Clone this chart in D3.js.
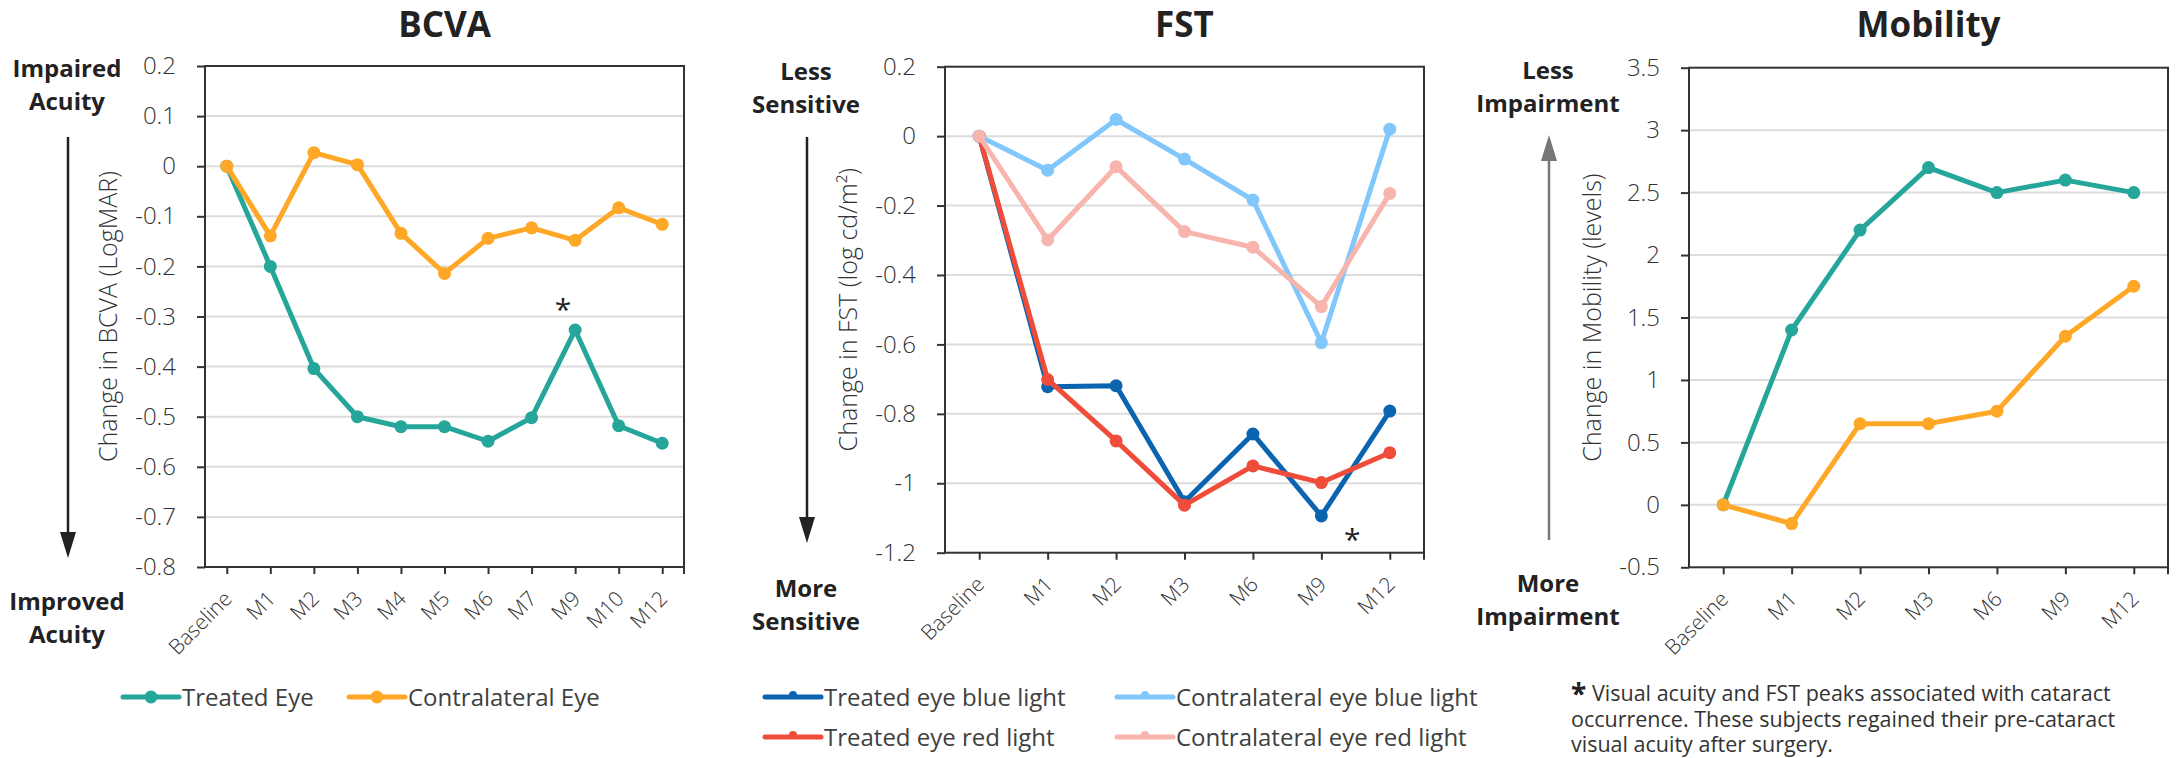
<!DOCTYPE html>
<html>
<head lang="en">
  <meta charset="UTF-8">
  <title>BCVA, FST and Mobility</title>
  <script src="https://cdn.jsdelivr.net/npm/d3@7"></script>
</head>
<style>
  body { margin: 0; background: #fff; }
  #chart text { font-family: "Open Sans", sans-serif; }
</style>
<body>

<svg id="chart" width="2177" height="758"></svg>

<script>
  // BCVA data
  var bcvaCategories = ['Baseline', 'M1', 'M2', 'M3', 'M4', 'M5', 'M6', 'M7', 'M9', 'M10', 'M12'];
  var bcvaTreated = [0, -0.2, -0.404, -0.5, -0.52, -0.52, -0.549, -0.502, -0.327, -0.518, -0.553];
  var bcvaContralateral = [0, -0.139, 0.027, 0.003, -0.134, -0.214, -0.144, -0.123, -0.148, -0.083, -0.116];
  var bcvaTicks = [0.2, 0.1, 0, -0.1, -0.2, -0.3, -0.4, -0.5, -0.6, -0.7, -0.8];

  // FST data
  var fstCategories = ['Baseline', 'M1', 'M2', 'M3', 'M6', 'M9', 'M12'];
  var fstTreatedBlue = [0, -0.722, -0.719, -1.053, -0.858, -1.094, -0.792];
  var fstTreatedRed = [0, -0.701, -0.878, -1.063, -0.95, -0.998, -0.912];
  var fstContralateralBlue = [0, -0.098, 0.048, -0.066, -0.184, -0.595, 0.02];
  var fstContralateralRed = [0, -0.299, -0.088, -0.275, -0.32, -0.491, -0.165];
  var fstTicks = [0.2, 0, -0.2, -0.4, -0.6, -0.8, -1, -1.2];

  // Mobility data
  var mobilityCategories = ['Baseline', 'M1', 'M2', 'M3', 'M6', 'M9', 'M12'];
  var mobilityTreated = [0, 1.4, 2.2, 2.7, 2.5, 2.6, 2.5];
  var mobilityContralateral = [0, -0.15, 0.65, 0.65, 0.75, 1.35, 1.75];
  var mobilityTicks = [3.5, 3, 2.5, 2, 1.5, 1, 0.5, 0, -0.5];

  var footnote = ['Visual acuity and FST peaks associated with cataract',
                  'occurrence. These subjects regained their pre-cataract',
                  'visual acuity after surgery.'];

  var teal = '#26a69a', orange = '#ffa726';
  var darkBlue = '#0b64b0', red = '#ef4d3a', lightBlue = '#82c7fb', pink = '#f7b5ad';

  var svg = d3.select('#chart');

  drawPanel({
    title: 'BCVA', categories: bcvaCategories, ticks: bcvaTicks,
    left: 205, right: 684, top: 66, bottom: 567,
    yTitle: 'Change in BCVA (LogMAR)',
    series: [
      { name: 'Treated Eye', values: bcvaTreated, color: teal },
      { name: 'Contralateral Eye', values: bcvaContralateral, color: orange }
    ],
    side: { x: 67, top: ['Impaired', 'Acuity'], topY: 77, bottom: ['Improved', 'Acuity'], bottomY: 610,
            arrowFrom: 137, arrowTo: 558, arrowColor: '#222' },
    legend: { pos: [[123, 697], [349, 697]], marker: 6.5 },
    star: { category: 'M9', dx: -12, y: 320 }
  });

  drawPanel({
    title: 'FST', categories: fstCategories, ticks: fstTicks,
    left: 945, right: 1424, top: 66.7, bottom: 552.7,
    yTitle: 'Change in FST (log cd/m\u00b2)',
    series: [
      { name: 'Treated eye blue light', values: fstTreatedBlue, color: darkBlue },
      { name: 'Treated eye red light', values: fstTreatedRed, color: red },
      { name: 'Contralateral eye blue light', values: fstContralateralBlue, color: lightBlue },
      { name: 'Contralateral eye red light', values: fstContralateralRed, color: pink }
    ],
    side: { x: 806, top: ['Less', 'Sensitive'], topY: 80, bottom: ['More', 'Sensitive'], bottomY: 597,
            arrowFrom: 137, arrowTo: 543, arrowColor: '#222' },
    legend: { pos: [[765, 697], [765, 737], [1117, 697], [1117, 737]], marker: 4 },
    star: { category: 'M9', dx: 31, y: 550 }
  });

  drawPanel({
    title: 'Mobility', categories: mobilityCategories, ticks: mobilityTicks,
    left: 1689, right: 2168, top: 67.7, bottom: 567.3,
    yTitle: 'Change in Mobility (levels)',
    series: [
      { name: 'Treated Eye', values: mobilityTreated, color: teal },
      { name: 'Contralateral Eye', values: mobilityContralateral, color: orange }
    ],
    side: { x: 1548, top: ['Less', 'Impairment'], topY: 79, bottom: ['More', 'Impairment'], bottomY: 592,
            arrowFrom: 540, arrowTo: 135, arrowColor: '#777' }
  });

  // footnote
  var note = svg.append('g').attr('transform', 'translate(1571,0)');
  note.append('text')
    .attr('x', 0).attr('y', 704)
    .attr('font-size', 28).attr('font-weight', 700).attr('fill', '#222')
    .text('*');
  note.selectAll('text.line')
    .data(footnote)
    .enter()
      .append('text')
      .attr('class', 'line')
      .attr('x', function(d, i) { return i === 0 ? 21 : 0; })
      .attr('y', function(d, i) { return 701 + i * 25.5; })
      .attr('font-size', 21.5)
      .attr('fill', '#333')
      .text(function(d) { return d; });

  function drawPanel(p) {
    var g = svg.append('g');

    var x = d3.scalePoint()
      .domain(p.categories)
      .range([p.left, p.right])
      .padding(0.5);

    var y = d3.scaleLinear()
      .domain([p.ticks[p.ticks.length - 1], p.ticks[0]])
      .range([p.bottom, p.top]);

    // gridlines
    g.selectAll('line.grid')
      .data(p.ticks.slice(1, -1))
      .enter()
        .append('line')
        .attr('class', 'grid')
        .attr('x1', p.left).attr('x2', p.right)
        .attr('y1', y).attr('y2', y)
        .attr('stroke', '#dcdcdc')
        .attr('stroke-width', 2);

    // y axis
    var yAxis = g.append('g')
      .attr('transform', 'translate(' + p.left + ',0)')
      .call(d3.axisLeft(y).tickValues(p.ticks).tickFormat(function(d) { return String(d); })
        .tickSize(8).tickSizeOuter(0).tickPadding(21));
    yAxis.select('.domain').remove();
    yAxis.selectAll('.tick line').attr('stroke', '#333').attr('stroke-width', 2);
    yAxis.selectAll('.tick text')
      .attr('font-size', 24).attr('font-weight', 300).attr('fill', '#333');

    // x axis
    var xAxis = g.append('g')
      .attr('transform', 'translate(0,' + p.bottom + ')')
      .call(d3.axisBottom(x).tickSize(7).tickSizeOuter(0));
    xAxis.select('.domain').remove();
    xAxis.selectAll('.tick line').attr('stroke', '#333').attr('stroke-width', 2);
    xAxis.selectAll('.tick text')
      .attr('x', 0).attr('y', 0).attr('dy', 0)
      .attr('text-anchor', 'end')
      .attr('transform', 'translate(6,33) rotate(-45)')
      .attr('font-size', 21).attr('font-weight', 300).attr('fill', '#333');
    xAxis.append('line')
      .attr('x1', p.right).attr('x2', p.right)
      .attr('y1', 0).attr('y2', 7)
      .attr('stroke', '#333').attr('stroke-width', 2);

    // frame
    g.append('rect')
      .attr('x', p.left).attr('y', p.top)
      .attr('width', p.right - p.left).attr('height', p.bottom - p.top)
      .attr('fill', 'none')
      .attr('stroke', '#333')
      .attr('stroke-width', 2);

    // series
    var line = d3.line()
      .x(function(d, i) { return x(p.categories[i]); })
      .y(function(d) { return y(d); });

    var s = g.selectAll('g.series')
      .data(p.series)
      .enter()
        .append('g')
        .attr('class', 'series');

    s.append('path')
      .attr('d', function(d) { return line(d.values); })
      .attr('fill', 'none')
      .attr('stroke', function(d) { return d.color; })
      .attr('stroke-width', 5)
      .attr('stroke-linejoin', 'round');

    s.selectAll('circle')
      .data(function(d) { return d.values.map(function(v, i) { return { v: v, i: i, color: d.color }; }); })
      .enter()
        .append('circle')
        .attr('cx', function(d) { return x(p.categories[d.i]); })
        .attr('cy', function(d) { return y(d.v); })
        .attr('r', 6.5)
        .attr('fill', function(d) { return d.color; });

    // title
    g.append('text')
      .attr('x', (p.left + p.right) / 2).attr('y', 37)
      .attr('text-anchor', 'middle')
      .attr('font-size', 35).attr('font-weight', 700).attr('fill', '#222')
      .text(p.title);

    // y title
    g.append('text')
      .attr('transform', 'translate(' + (p.left - 88) + ',' + (p.top + p.bottom) / 2 + ') rotate(-90)')
      .attr('text-anchor', 'middle')
      .attr('font-size', 25).attr('font-weight', 300).attr('fill', '#333')
      .text(p.yTitle);

    // direction labels and arrow
    var side = p.side;
    [[side.top, side.topY], [side.bottom, side.bottomY]].forEach(function(block) {
      g.selectAll(null)
        .data(block[0])
        .enter()
          .append('text')
          .attr('x', side.x)
          .attr('y', function(d, i) { return block[1] + i * 33; })
          .attr('text-anchor', 'middle')
          .attr('font-size', 24).attr('font-weight', 700).attr('fill', '#222')
          .text(function(d) { return d; });
    });
    var dir = side.arrowTo > side.arrowFrom ? 1 : -1;
    g.append('line')
      .attr('x1', side.x + 1).attr('x2', side.x + 1)
      .attr('y1', side.arrowFrom).attr('y2', side.arrowTo - dir * 20)
      .attr('stroke', side.arrowColor).attr('stroke-width', 2.5);
    g.append('path')
      .attr('d', 'M' + (side.x + 1 - 8) + ',' + (side.arrowTo - dir * 26) +
                 'L' + (side.x + 1 + 8) + ',' + (side.arrowTo - dir * 26) +
                 'L' + (side.x + 1) + ',' + side.arrowTo + 'Z')
      .attr('fill', side.arrowColor);

    // asterisk
    if (p.star) {
      g.append('text')
        .attr('x', x(p.star.category) + p.star.dx).attr('y', p.star.y)
        .attr('text-anchor', 'middle')
        .attr('font-size', 30).attr('fill', '#222')
        .text('*');
    }

    // legend
    if (p.legend) {
      var item = g.selectAll('g.legend')
        .data(p.series)
        .enter()
          .append('g')
          .attr('class', 'legend')
          .attr('transform', function(d, i) { return 'translate(' + p.legend.pos[i][0] + ',' + p.legend.pos[i][1] + ')'; });
      item.append('line')
        .attr('x1', 0).attr('x2', 56)
        .attr('stroke', function(d) { return d.color; })
        .attr('stroke-width', 5)
        .attr('stroke-linecap', 'round');
      item.append('circle')
        .attr('cx', 28)
        .attr('cy', p.legend.marker < 5 ? -2 : 0)
        .attr('r', p.legend.marker)
        .attr('fill', function(d) { return d.color; });
      item.append('text')
        .attr('x', 59).attr('y', 8.5)
        .attr('font-size', 24).attr('fill', '#404040')
        .text(function(d) { return d.name; });
    }
  }
</script>
</body>
</html>
